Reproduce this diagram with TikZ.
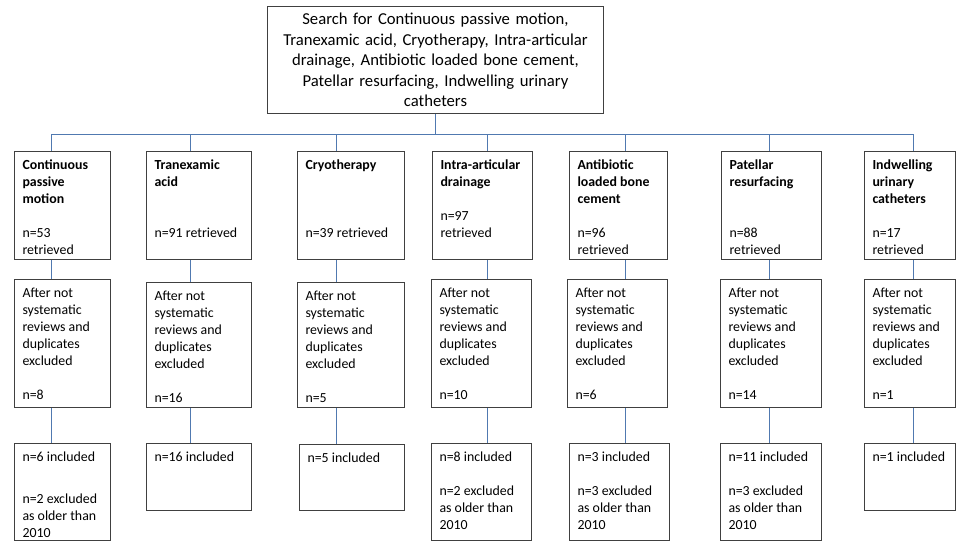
\documentclass[tikz,border=0pt]{standalone}
\usepackage{fontspec}
\setmainfont{Carlito}
\usepackage{tikz}
\definecolor{linkblue}{HTML}{5079B0}
\definecolor{boxgray}{HTML}{404040}
\newlength{\pxu}
\setlength{\pxu}{0.75pt}
\newcommand{\cellfont}{\fontsize{10.4pt}{12.75pt}\selectfont}
% text of a box: width and height in px, padding taken off
\newcommand{\celltext}[3]{\parbox[t][\dimexpr#2\pxu-12\pxu\relax][t]{\dimexpr#1\pxu-16\pxu\relax}{\raggedright\strut#3}}
\tikzset{
  sbox/.style={draw=boxgray, line width=0.75pt, anchor=north west, inner sep=0pt, align=center, font=\fontsize{12.5pt}{15.4pt}\selectfont},
  cbox/.style={draw=boxgray, line width=0.75pt, anchor=north west, inner xsep=8\pxu, inner ysep=6\pxu, font=\cellfont},
  tlink/.style={draw=linkblue, line width=0.65pt},
}

\begin{document}
\begin{tikzpicture}[x=0.75pt, y=-0.75pt]
    \useasboundingbox (0,0) rectangle (957,542);
    \node[sbox, text width=336\pxu, minimum height=107\pxu] (search) at (267,6) {Search for Continuous passive motion,\\ Tranexamic acid, Cryotherapy, Intra-articular\\ drainage, Antibiotic loaded bone cement,\\ Patellar resurfacing, Indwelling urinary\\ catheters};
    % retrieved
    \node[cbox] (cpm) at (14,151) {\celltext{96}{108}{\textbf{Continuous\\ passive\\ motion}\\[\baselineskip] n=53\\ retrieved}};
    \node[cbox] (txa) at (146,151) {\celltext{105}{108}{\textbf{Tranexamic\\ acid}\\[2\baselineskip] n=91 retrieved}};
    \node[cbox] (cryo) at (297,151) {\celltext{107}{108}{\textbf{Cryotherapy}\\[3\baselineskip] n=39 retrieved}};
    \node[cbox] (drain) at (432,151) {\celltext{100}{108}{\textbf{Intra-articular\\ drainage}\\[\baselineskip] n=97\\ retrieved}};
    \node[cbox] (cement) at (569,151) {\celltext{98}{108}{\textbf{Antibiotic\\ loaded bone\\ cement}\\[\baselineskip] n=96\\ retrieved}};
    \node[cbox] (patella) at (721,151) {\celltext{100}{108}{\textbf{Patellar\\ resurfacing}\\[2\baselineskip] n=88\\ retrieved}};
    \node[cbox] (cath) at (864,151) {\celltext{91}{108}{\textbf{Indwelling\\ urinary\\ catheters}\\[\baselineskip] n=17\\ retrieved}};
    % screened
    \node[cbox] (cpmscr) at (14,279) {\celltext{96}{128}{After not\\ systematic\\ reviews and\\ duplicates\\ excluded\\[\baselineskip] n=8}};
    \node[cbox] (txascr) at (146,282) {\celltext{105}{125}{After not\\ systematic\\ reviews and\\ duplicates\\ excluded\\[\baselineskip] n=16}};
    \node[cbox] (cryoscr) at (297,282) {\celltext{107}{125}{After not\\ systematic\\ reviews and\\ duplicates\\ excluded\\[\baselineskip] n=5}};
    \node[cbox] (drainscr) at (431,279) {\celltext{100}{128}{After not\\ systematic\\ reviews and\\ duplicates\\ excluded\\[\baselineskip] n=10}};
    \node[cbox] (cementscr) at (567,279) {\celltext{100}{128}{After not\\ systematic\\ reviews and\\ duplicates\\ excluded\\[\baselineskip] n=6}};
    \node[cbox] (patellascr) at (720,279) {\celltext{101}{128}{After not\\ systematic\\ reviews and\\ duplicates\\ excluded\\[\baselineskip] n=14}};
    \node[cbox] (cathscr) at (864,279) {\celltext{91}{128}{After not\\ systematic\\ reviews and\\ duplicates\\ excluded\\[\baselineskip] n=1}};
    % included
    \node[cbox] (cpminc) at (14,443) {\celltext{96}{97}{n=6 included\\[1.5\baselineskip] n=2 excluded\\ as older than\\ 2010}};
    \node[cbox] (txainc) at (146,443) {\celltext{105}{67}{n=16 included}};
    \node[cbox] (cryoinc) at (299,444) {\celltext{105}{66}{n=5 included}};
    \node[cbox] (draininc) at (431,443) {\celltext{100}{97}{n=8 included\\[\baselineskip] n=2 excluded\\ as older than\\ 2010}};
    \node[cbox] (cementinc) at (569,443) {\celltext{100}{97}{n=3 included\\[\baselineskip] n=3 excluded\\ as older than\\ 2010}};
    \node[cbox] (patellainc) at (720,443) {\celltext{101}{97}{n=11 included\\[\baselineskip] n=3 excluded\\ as older than\\ 2010}};
    \node[cbox] (cathinc) at (864,443) {\celltext{91}{67}{n=1 included}};
    % bus and drops
    \coordinate (jcpm) at (51,134);
    \coordinate (jtxa) at (190,134);
    \coordinate (jcryo) at (336,134);
    \coordinate (jdrain) at (487,134);
    \coordinate (jcement) at (625,134);
    \coordinate (jpatella) at (769,134);
    \coordinate (jcath) at (913,134);
    \draw[tlink] (search.south) -- (search.south |- jcpm);
    \draw[tlink] (jcpm) -- (jcath);
    \draw[tlink] (jcpm) -- (jcpm |- cpm.north) (jcpm |- cpm.south) -- (jcpm |- cpmscr.north) (jcpm |- cpmscr.south) -- (jcpm |- cpminc.north);
    \draw[tlink] (jtxa) -- (jtxa |- txa.north) (jtxa |- txa.south) -- (jtxa |- txascr.north) (jtxa |- txascr.south) -- (jtxa |- txainc.north);
    \draw[tlink] (jcryo) -- (jcryo |- cryo.north) (jcryo |- cryo.south) -- (jcryo |- cryoscr.north) (jcryo |- cryoscr.south) -- (jcryo |- cryoinc.north);
    \draw[tlink] (jdrain) -- (jdrain |- drain.north) (jdrain |- drain.south) -- (jdrain |- drainscr.north) (jdrain |- drainscr.south) -- (jdrain |- draininc.north);
    \draw[tlink] (jcement) -- (jcement |- cement.north) (jcement |- cement.south) -- (jcement |- cementscr.north) (jcement |- cementscr.south) -- (jcement |- cementinc.north);
    \draw[tlink] (jpatella) -- (jpatella |- patella.north) (jpatella |- patella.south) -- (jpatella |- patellascr.north) (jpatella |- patellascr.south) -- (jpatella |- patellainc.north);
    \draw[tlink] (jcath) -- (jcath |- cath.north) (jcath |- cath.south) -- (jcath |- cathscr.north) (jcath |- cathscr.south) -- (jcath |- cathinc.north);
\end{tikzpicture}
\end{document}
